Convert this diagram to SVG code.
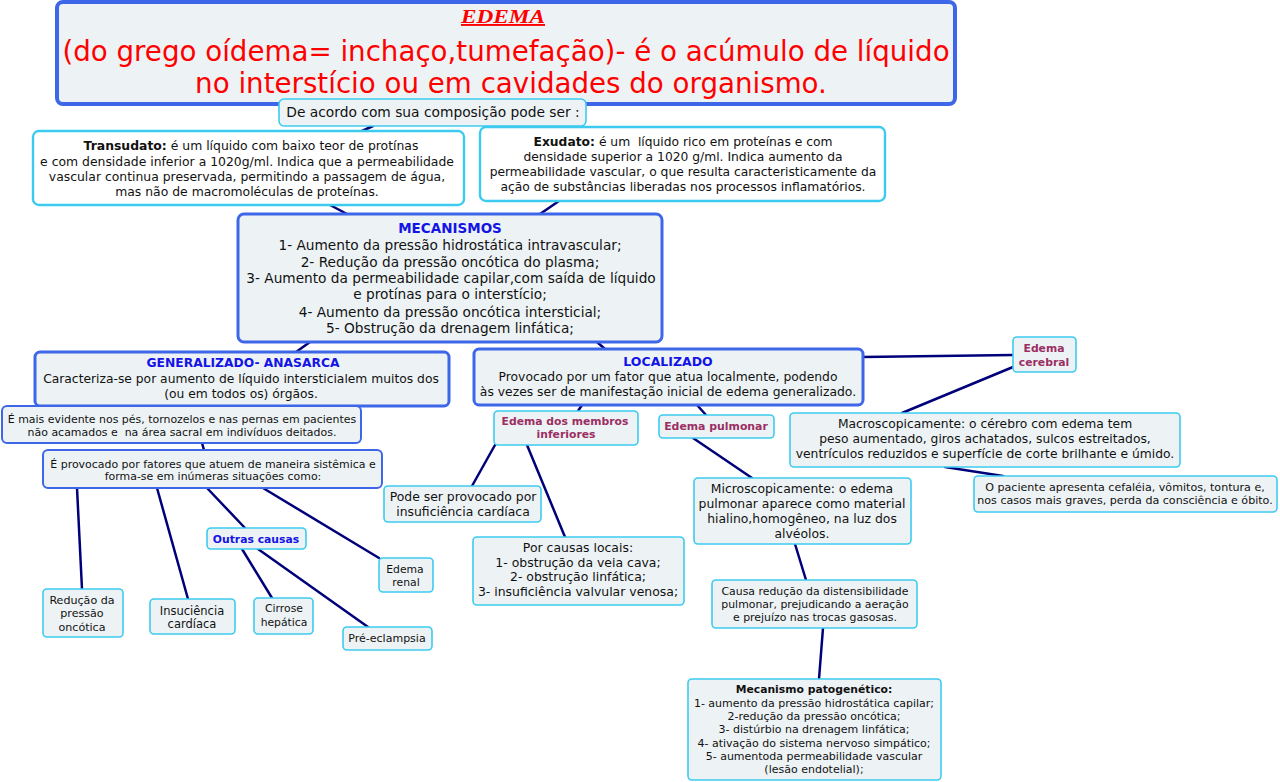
<svg xmlns="http://www.w3.org/2000/svg" width="1280" height="782" viewBox="0 0 1280 782">
<style>
.bg{fill:#ffffff}
.c{fill:#edf3f5;stroke:#3ccbef;stroke-width:1.6}
.w{fill:#ffffff;stroke:#3ccbef;stroke-width:2.4}
.b{fill:#edf3f5;stroke:#3d66e8;stroke-width:3}
.b2{fill:#edf3f5;stroke:#3d66e8;stroke-width:2}
text{font-family:"DejaVu Sans",Verdana,sans-serif;fill:#111;text-anchor:middle}
.hb{font-weight:bold;fill:#1414e6}
.hm{font-weight:bold;fill:#9b2e62}
.bd{font-weight:bold}
.conn line{stroke:#00007a;stroke-width:2.5;stroke-linecap:round}
</style>
<rect class="bg" x="0" y="0" width="1280" height="782"/>
<g class="conn" id="connectors">
<line x1="373" y1="126" x2="362" y2="131"/>
<line x1="330" y1="205" x2="347" y2="214"/>
<line x1="559" y1="201" x2="540" y2="214"/>
<line x1="310" y1="342" x2="296" y2="352"/>
<line x1="597" y1="342" x2="605" y2="349"/>
<line x1="202" y1="443" x2="204" y2="450"/>
<line x1="77" y1="488" x2="82" y2="589"/>
<line x1="157" y1="488" x2="188" y2="599"/>
<line x1="207" y1="488" x2="245" y2="528"/>
<line x1="263" y1="488" x2="379" y2="558"/>
<line x1="242" y1="549" x2="272" y2="598"/>
<line x1="258" y1="549" x2="368" y2="627"/>
<line x1="582" y1="405" x2="578" y2="411"/>
<line x1="697" y1="405" x2="706" y2="415"/>
<line x1="495" y1="445" x2="472" y2="486"/>
<line x1="527" y1="445" x2="565" y2="537"/>
<line x1="693" y1="438" x2="752" y2="478"/>
<line x1="795" y1="544" x2="806" y2="580"/>
<line x1="823" y1="628" x2="819" y2="679"/>
<line x1="863" y1="357" x2="1013" y2="355"/>
<line x1="1013" y1="367" x2="902" y2="413"/>
<line x1="945" y1="467" x2="1003" y2="476"/>
</g>
<g id="title">
<rect x="57" y="2" width="898" height="102" rx="6" fill="#edf3f5" stroke="#3d66e8" stroke-width="4"/>
<text x="503" y="23" textLength="84" lengthAdjust="spacingAndGlyphs" style="font-family:'Liberation Serif',serif;font-weight:bold;font-style:italic;font-size:19px;fill:#ff0000;text-decoration:underline">EDEMA</text>
<text x="506" y="61" style="font-size:27.7px;fill:#ff0000">(do grego oídema= inchaço,tumefação)- é o acúmulo de líquido</text>
<text x="511" y="93" style="font-size:27.7px;fill:#ff0000">no interstício ou em cavidades do organismo.</text>
</g>
<g id="composicao">
<rect class="c" x="279" y="99" width="307" height="27" rx="5"/>
<text x="433" y="117" style="font-size:13.8px">De acordo com sua composição pode ser :</text>
</g>
<g id="transudato" style="font-size:12.4px">
<rect class="w" x="33" y="131" width="431" height="74" rx="6"/>
<text x="251" y="150"><tspan class="bd">Transudato:</tspan> é um líquido com baixo teor de protínas</text>
<text x="247" y="166">e com densidade inferior a 1020g/ml. Indica que a permeabilidade</text>
<text x="247" y="181">vascular continua preservada, permitindo a passagem de água,</text>
<text x="247" y="196">mas não de macromoléculas de proteínas.</text>
</g>
<g id="exudato" style="font-size:12.3px">
<rect class="w" x="480" y="127" width="405" height="74" rx="6"/>
<text x="683" y="146" xml:space="preserve"><tspan class="bd">Exudato:</tspan> é um  líquido rico em proteínas e com</text>
<text x="683" y="161">densidade superior a 1020 g/ml. Indica aumento da</text>
<text x="683" y="176">permeabilidade vascular, o que resulta caracteristicamente da</text>
<text x="683" y="191">ação de substâncias liberadas nos processos inflamatórios.</text>
</g>
<g id="mecanismos" style="font-size:13.7px">
<rect class="b" x="238" y="214" width="424" height="128" rx="6"/>
<text class="hb" x="450" y="233" style="font-size:13.5px">MECANISMOS</text>
<text x="450" y="250">1- Aumento da pressão hidrostática intravascular;</text>
<text x="450" y="267">2- Redução da pressão oncótica do plasma;</text>
<text x="451" y="283">3- Aumento da permeabilidade capilar,com saída de líquido</text>
<text x="450" y="299">e protínas para o interstício;</text>
<text x="450" y="317">4- Aumento da pressão oncótica intersticial;</text>
<text x="450" y="333">5- Obstrução da drenagem linfática;</text>
</g>
<g id="generalizado" style="font-size:12.3px">
<rect class="b" x="35" y="352" width="414" height="54" rx="5"/>
<text class="hb" x="243" y="367">GENERALIZADO- ANASARCA</text>
<text x="241" y="383">Caracteriza-se por aumento de líquido intersticialem muitos dos</text>
<text x="241" y="398">(ou em todos os) órgãos.</text>
</g>
<g id="evidente" style="font-size:10.95px">
<rect class="b2" x="2" y="406" width="359" height="37" rx="5"/>
<text x="182" y="423">É mais evidente nos pés, tornozelos e nas pernas em pacientes</text>
<text x="182" y="436" xml:space="preserve">não acamados e  na área sacral em indivíduos deitados.</text>
</g>
<g id="provocado" style="font-size:10.95px">
<rect class="b2" x="43" y="450" width="339" height="38" rx="5"/>
<text x="213" y="468">É provocado por fatores que atuem de maneira sistêmica e</text>
<text x="213" y="480">forma-se em inúmeras situações como:</text>
</g>
<g id="outras" style="font-size:10.8px">
<rect class="c" x="207" y="528" width="99" height="21" rx="4"/>
<text class="hb" x="256" y="543">Outras causas</text>
</g>
<g id="reducao" style="font-size:11.1px">
<rect class="c" x="43" y="589" width="80" height="48" rx="4"/>
<text x="82" y="604">Redução da</text>
<text x="82" y="617">pressão</text>
<text x="82" y="631">oncótica</text>
</g>
<g id="insuficiencia" style="font-size:11.5px">
<rect class="c" x="150" y="599" width="85" height="35" rx="4"/>
<text x="192" y="615">Insuciência</text>
<text x="192" y="628">cardíaca</text>
</g>
<g id="cirrose" style="font-size:10.8px">
<rect class="c" x="254" y="598" width="59" height="36" rx="4"/>
<text x="284" y="612">Cirrose</text>
<text x="284" y="626">hepática</text>
</g>
<g id="preeclampsia" style="font-size:11px">
<rect class="c" x="343" y="627" width="89" height="23" rx="4"/>
<text x="387" y="642">Pré-eclampsia</text>
</g>
<g id="renal" style="font-size:10.8px">
<rect class="c" x="379" y="558" width="54" height="34" rx="4"/>
<text x="405" y="573">Edema</text>
<text x="406" y="586">renal</text>
</g>
<g id="localizado" style="font-size:12.35px">
<rect class="b" x="474" y="349" width="389" height="56" rx="5"/>
<text class="hb" x="668" y="366" style="font-size:12.5px">LOCALIZADO</text>
<text x="668" y="381">Provocado por um fator que atua localmente, podendo</text>
<text x="668" y="396">às vezes ser de manifestação inicial de edema generalizado.</text>
</g>
<g id="membros" style="font-size:10.8px">
<rect class="c" x="494" y="411" width="144" height="34" rx="4"/>
<text class="hm" x="565" y="425">Edema dos membros</text>
<text class="hm" x="566" y="438">inferiores</text>
</g>
<g id="pulmonar" style="font-size:10.9px">
<rect class="c" x="659" y="415" width="115" height="23" rx="4"/>
<text class="hm" x="716" y="430">Edema pulmonar</text>
</g>
<g id="podeser" style="font-size:12.4px">
<rect class="c" x="384" y="486" width="157" height="36" rx="4"/>
<text x="463" y="501">Pode ser provocado por</text>
<text x="463" y="516">insuficiência cardíaca</text>
</g>
<g id="causaslocais" style="font-size:12.45px">
<rect class="c" x="473" y="537" width="211" height="68" rx="4"/>
<text x="578" y="552">Por causas locais:</text>
<text x="578" y="567">1- obstrução da veia cava;</text>
<text x="578" y="581">2- obstrução linfática;</text>
<text x="578" y="596">3- insuficiência valvular venosa;</text>
</g>
<g id="micro" style="font-size:12.4px">
<rect class="c" x="694" y="478" width="217" height="66" rx="4"/>
<text x="802" y="493">Microscopicamente: o edema</text>
<text x="802" y="508">pulmonar aparece como material</text>
<text x="802" y="523">hialino,homogêneo, na luz dos</text>
<text x="802" y="538">alvéolos.</text>
</g>
<g id="causa" style="font-size:10.9px">
<rect class="c" x="712" y="580" width="205" height="48" rx="4"/>
<text x="815" y="595">Causa redução da distensibilidade</text>
<text x="815" y="608">pulmonar, prejudicando a aeração</text>
<text x="815" y="621">e prejuízo nas trocas gasosas.</text>
</g>
<g id="patogenetico" style="font-size:11px">
<rect class="c" x="688" y="679" width="253" height="101" rx="4"/>
<text class="bd" x="814" y="693" style="font-size:10.8px">Mecanismo patogenético:</text>
<text x="814" y="707">1- aumento da pressão hidrostática capilar;</text>
<text x="814" y="720">2-redução da pressão oncótica;</text>
<text x="814" y="733">3- distúrbio na drenagem linfática;</text>
<text x="814" y="747">4- ativação do sistema nervoso simpático;</text>
<text x="814" y="760">5- aumentoda permeabilidade vascular</text>
<text x="814" y="773">(lesão endotelial);</text>
</g>
<g id="cerebral" style="font-size:10.8px">
<rect class="c" x="1013" y="337" width="63" height="35" rx="4"/>
<text class="hm" x="1044" y="352">Edema</text>
<text class="hm" x="1044" y="366">cerebral</text>
</g>
<g id="macro" style="font-size:12.3px">
<rect class="c" x="790" y="413" width="390" height="54" rx="4"/>
<text x="985" y="428">Macroscopicamente: o cérebro com edema tem</text>
<text x="985" y="443">peso aumentado, giros achatados, sulcos estreitados,</text>
<text x="985" y="458">ventrículos reduzidos e superfície de corte brilhante e úmido.</text>
</g>
<g id="paciente" style="font-size:11.1px">
<rect class="c" x="974" y="476" width="303" height="36" rx="4"/>
<text x="1125" y="491">O paciente apresenta cefaléia, vômitos, tontura e,</text>
<text x="1125" y="504">nos casos mais graves, perda da consciência e óbito.</text>
</g>
</svg>
